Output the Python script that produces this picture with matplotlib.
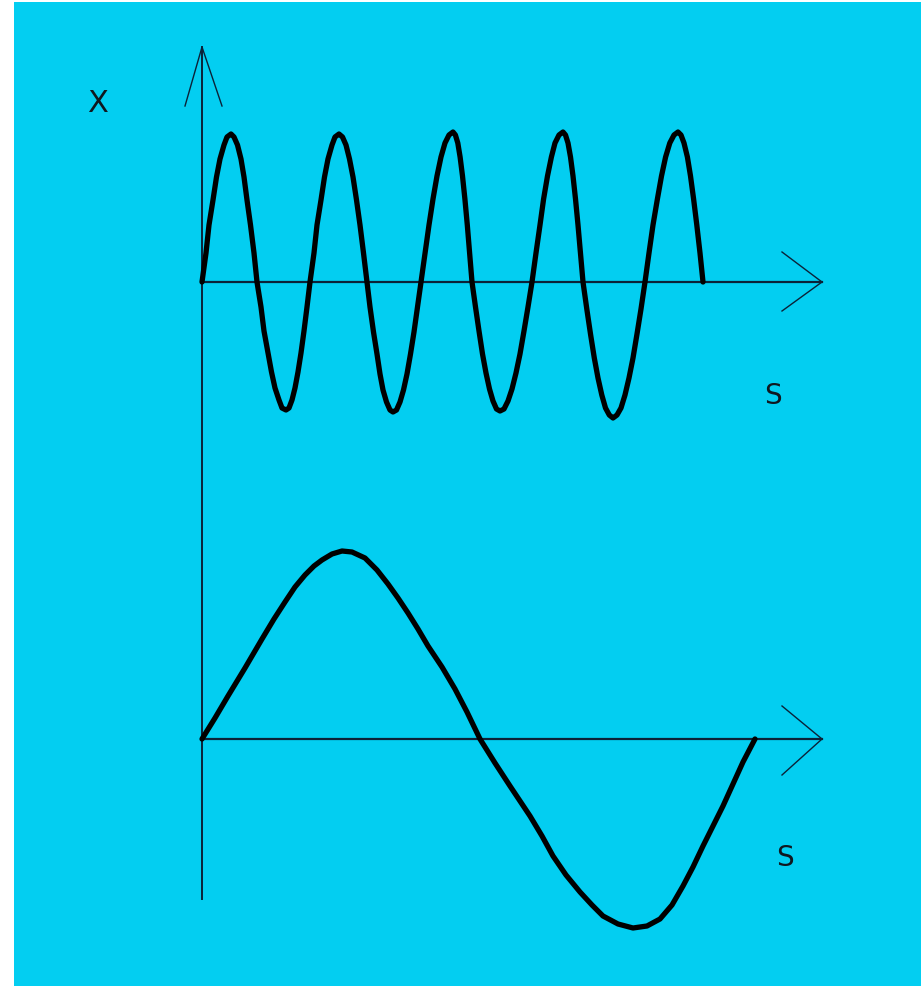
import matplotlib
matplotlib.use("Agg")
import matplotlib.pyplot as plt
from matplotlib.patches import Rectangle

# ---------------- data ----------------
# upper wave: s = distance along axis, x = displacement (up positive)
upper_s = [0, 4, 7, 11, 14.5, 18, 22, 25, 29, 32, 35.5, 39, 42, 45, 48.5, 52, 55,
           59, 62, 66, 69.5, 73, 77, 80, 84, 87, 90, 93, 96, 99, 102, 105, 108,
           112, 115, 119, 122.5, 126, 130, 133, 137, 140.5, 144, 147.5, 151, 154.5, 158, 161.5, 165,
           168, 171.5, 175, 178, 181, 184.5, 188, 191, 194.5, 198, 201.5, 205, 208.5, 212, 215.5, 219,
           223, 227, 231, 235, 239, 243, 247, 251, 253.4, 255.8, 258.1, 260.5, 262.9, 265.3, 267.6, 270,
           273.5, 277, 280.5, 284, 287.5, 291, 294.5, 298, 302, 306, 310, 314, 318, 322, 326, 330,
           334, 338, 341.6, 345.5, 349.4, 353, 357, 361, 363.5, 366, 368.5, 371, 373.5, 376, 378.5, 381,
           384.8, 388.5, 392.3, 396, 399.8, 403.5, 407.3, 411, 415, 419, 423, 427, 431, 435, 439, 443,
           447, 451, 455.4, 459.5, 463.6, 467.8, 472, 476, 479, 482, 485.4, 488.5, 491.6, 494.8, 498, 501]
upper_x = [0, 29, 57, 82, 105, 123, 137, 145, 148, 145, 137, 123, 105, 82, 57, 29, 0,
           -25, -49, -71, -90, -106, -118, -126, -128, -126, -118, -106, -90, -71, -49, -25, 0,
           29, 57, 82, 105, 123, 137, 145, 148, 145, 137, 123, 105, 82, 57, 29, 0,
           -25, -50, -72, -92, -108, -120, -128, -130, -128, -120, -108, -92, -72, -50, -25, 0,
           29, 57, 83, 106, 125, 139, 147, 150, 147, 139, 125, 106, 83, 57, 29, 0,
           -25, -49, -72, -91, -107, -119, -127, -129, -127, -119, -107, -91, -72, -49, -25, 0,
           29, 57, 83, 106, 125, 139, 147, 150, 147, 139, 125, 106, 83, 57, 29, 0,
           -27, -52, -76, -96, -113, -126, -133, -136, -133, -126, -113, -96, -76, -52, -27, 0,
           29, 57, 83, 106, 125, 139, 147, 150, 147, 139, 125, 106, 83, 57, 29, 0]

# lower wave
lower_s = [0, 13, 26, 43, 60, 72, 83, 93, 103, 112, 120, 130, 140, 150, 163, 175, 186, 196,
           206, 216, 226, 240, 253, 265, 278,
           293, 308, 318, 328, 340, 351, 364, 378, 390, 401, 416, 431, 445, 458, 470, 481,
           491, 501, 511, 521, 531, 541, 553]
lower_x = [0, 21, 43, 71, 100, 120, 137, 152, 164, 173, 179, 185, 188, 187, 181, 169, 155, 141,
           126, 110, 93, 72, 50, 27, 0,
           -24, -47, -62, -77, -97, -117, -136, -153, -166, -177, -185, -189, -187, -180, -166, -147,
           -128, -107, -87, -67, -45, -23, 0]

y_label = "X"
s_label = "S"

# ---------------- layout (pixels) ----------------
W, H = 921, 987
ox = 202            # vertical axis position
oy_up = 283         # upper horizontal axis
oy_low = 740        # lower horizontal axis
ax_end = 822
vtop, vbot = 48, 900

bg = "#03CEF1"
axcol = "#0b2238"

fig = plt.figure(figsize=(W / 100, H / 100), dpi=100)
ax = fig.add_axes([0, 0, 1, 1])
ax.set_xlim(0, W)
ax.set_ylim(H, 0)
ax.axis("off")
fig.patch.set_facecolor("white")

ax.add_patch(Rectangle((14, 3), W - 14, H - 3, facecolor=bg, edgecolor="none", zorder=0))

# vertical axis with open arrowhead
ax.plot([ox, ox], [vtop, vbot], color=axcol, lw=1.4, zorder=2)
ax.plot([185, ox, 222], [107, vtop, 107], color=axcol, lw=1.0, zorder=2)

# horizontal axes with open arrowheads
for oy, a1, a2 in [(oy_up, 253, 312), (oy_low, 707, 776)]:
    ax.plot([ox, ax_end], [oy, oy], color=axcol, lw=1.6, zorder=2)
    ax.plot([782, ax_end, 782], [a1, oy, a2], color=axcol, lw=1.0, zorder=2)

# waves
ax.plot([ox + s for s in upper_s], [oy_up - x for x in upper_x],
        color="black", lw=3.8, solid_joinstyle="round", solid_capstyle="round", zorder=3)
ax.plot([ox + s for s in lower_s], [oy_low - x for x in lower_x],
        color="black", lw=3.8, solid_joinstyle="round", solid_capstyle="round", zorder=3)

# labels
ax.text(98, 104, y_label, fontsize=22, color="#101820", ha="center", va="center",
        family="DejaVu Sans")
ax.text(773, 396, s_label, fontsize=20, color="#101820", ha="center", va="center",
        family="DejaVu Sans")
ax.text(785, 858, s_label, fontsize=20, color="#101820", ha="center", va="center",
        family="DejaVu Sans")

fig.savefig("out.png", dpi=100, facecolor="white")
